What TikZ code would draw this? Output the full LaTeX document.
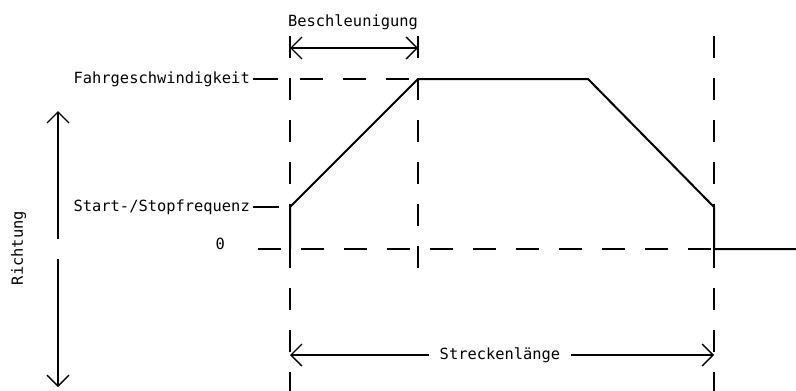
\documentclass[tikz,border=0pt]{standalone}
\usepackage{fontspec}
\setmonofont{DejaVu Sans Mono}
\usetikzlibrary{arrows.meta}

\begin{document}
\begin{tikzpicture}[x=1pt,y=-1pt,
  beschriftung/.style={font=\ttfamily\fontsize{15.4}{18}\selectfont,inner sep=0pt},
  hilfslinie/.style={line width=1.4pt,dash pattern=on 22pt off 20pt},
  kurve/.style={line width=2pt,line join=miter},
  spitze/.tip={Straight Barb[length=11pt,width=22pt,line width=1.3pt]},
  pfeil/.style={line width=1.3pt,-spitze},
  doppelpfeil/.style={line width=1.3pt,spitze-spitze},
  strich/.style={line width=1.4pt}]

  \useasboundingbox (0,0) rectangle (796,391);

  % Hilfslinien
  \draw[hilfslinie] (290,36) -- (290,391);
  \draw[hilfslinie] (418,36) -- (418,270);
  \draw[hilfslinie] (714,36) -- (714,391);
  \draw[hilfslinie,dash pattern=on 23pt off 20pt] (300,79) -- (418,79);
  \draw[hilfslinie,dash pattern=on 23pt off 20pt] (258,249) -- (714,249);

  % Beschriftung links
  \node[beschriftung,anchor=east,inner xsep=3pt] (fahr) at (253,79) {Fahrgeschwindigkeit};
  \node[beschriftung,anchor=east,inner xsep=3pt] (start) at (253,207) {Start-/Stopfrequenz};
  \node[beschriftung,anchor=base east] (null) at (225,249) {0};
  \coordinate (f1) at (278,79);
  \coordinate (s0) at (279,207);
  \draw[strich] (fahr) -- (f1);
  \draw[strich] (start) -- (s0);

  % Geschwindigkeitsverlauf
  \coordinate (a0) at (290,249);
  \coordinate (a1) at (290,207);
  \coordinate (a2) at (418,79);
  \coordinate (a3) at (588,79);
  \coordinate (a4) at (714,207);
  \coordinate (a5) at (714,249);
  \coordinate (a6) at (796,249);
  \draw[kurve] (a0) -- (a1) -- (a2) -- (a3) -- (a4) -- (a5) -- (a6);

  % Beschleunigung
  \node[beschriftung,anchor=base] (beschl) at (353,26) {Beschleunigung};
  \coordinate (b1) at (290,48);
  \coordinate (b2) at (418,48);
  \draw[doppelpfeil] (b1) -- (b2);

  % Streckenlaenge
  \node[beschriftung,inner xsep=11pt] (strecke) at (500,355) {Streckenlänge};
  \coordinate (l1) at (290,355);
  \coordinate (l2) at (714,355);
  \draw[pfeil] (strecke) -- (l1);
  \draw[pfeil] (strecke) -- (l2);

  % Richtung
  \node[beschriftung,rotate=90,anchor=base] (richtung) at (23,248) {Richtung};
  \coordinate (r0) at (58,239);
  \coordinate (r1) at (58,111);
  \coordinate (r2) at (58,259);
  \coordinate (r3) at (58,387);
  \draw[pfeil] (r0) -- (r1);
  \draw[pfeil] (r2) -- (r3);
\end{tikzpicture}
\end{document}
